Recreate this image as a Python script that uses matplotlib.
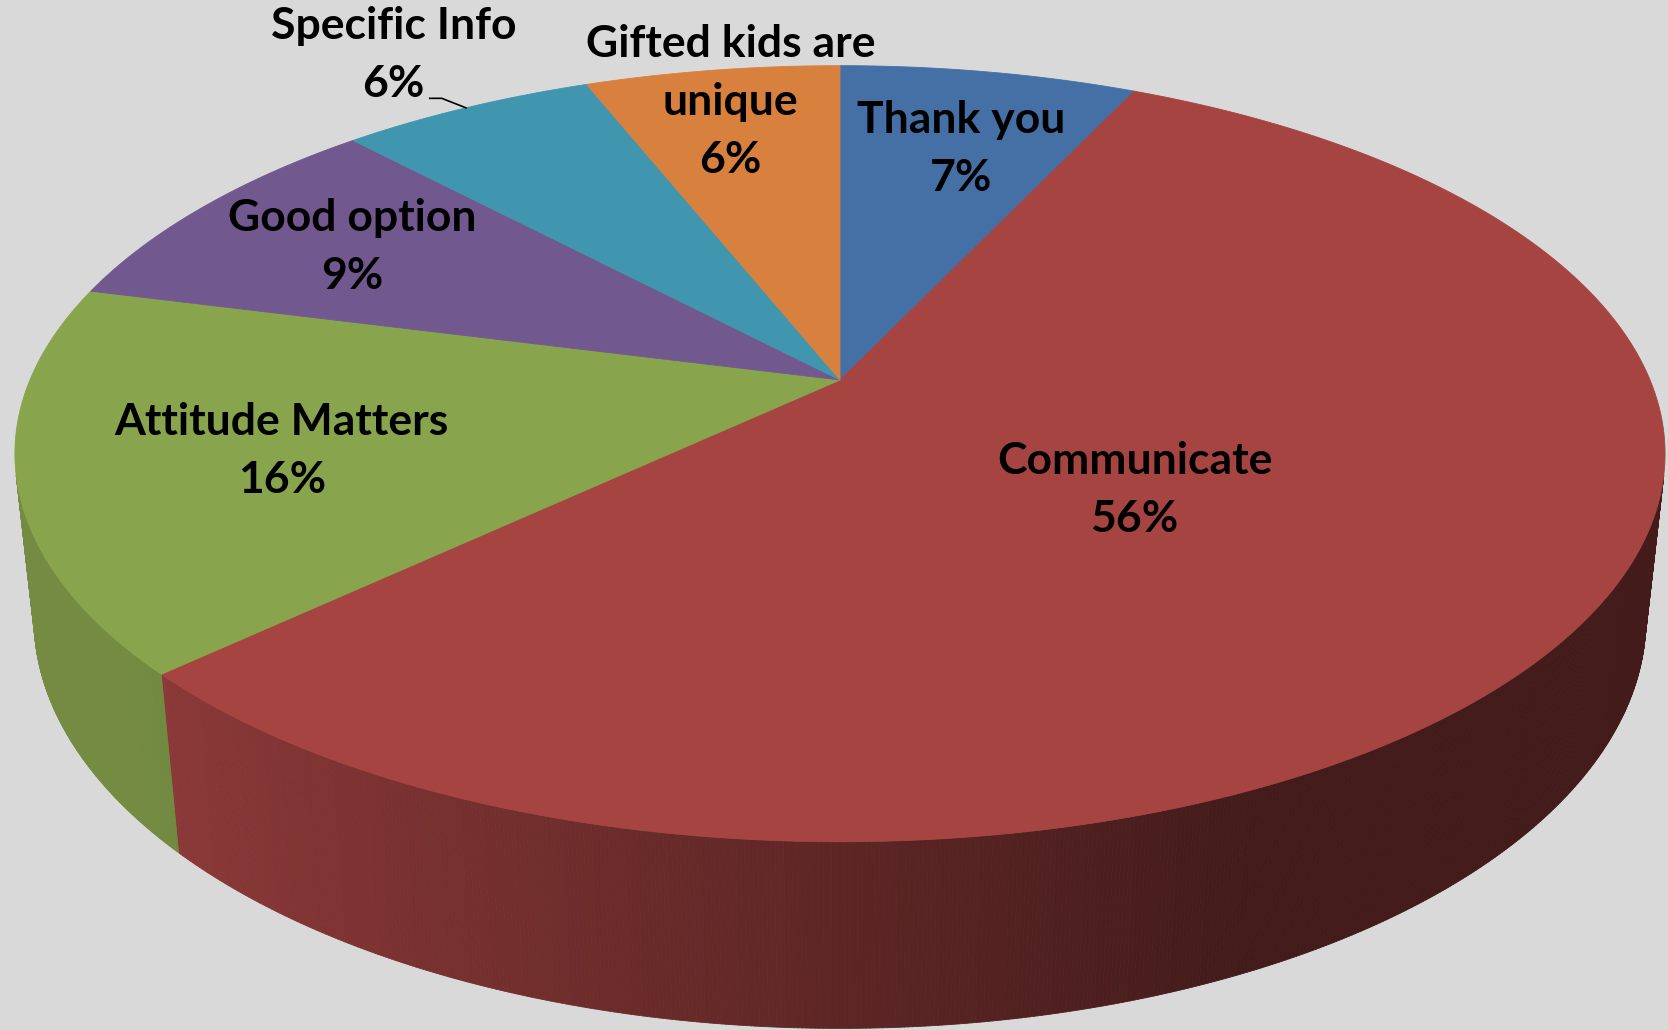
import numpy as np
import matplotlib.pyplot as plt
from matplotlib.collections import PolyCollection
from matplotlib.colors import to_rgb

# --------------------------------------------------
# Data
# --------------------------------------------------
labels = ["Thank you", "Communicate", "Attitude Matters", "Good option",
          "Specific Info", "Gifted kids are\nunique"]
shares = [7, 56, 16, 9, 6, 6]
colors = ["#4470A6", "#A64442", "#88A44D", "#71588F", "#4196AF", "#D8803D"]

# label placement on the top face: radius fraction and angle nudge (deg)
label_r = [0.72, 0.443, 0.69, 0.75, 1.231, 0.879]
label_dtheta = [1, 3, -1, 0, 0, 0.5]

# --------------------------------------------------
# Fake 3D pie geometry (perspective camera)
# --------------------------------------------------
W, H = 1668, 1030
CX, CY = 840, 380
FOCAL, DIST, ELEV = 3783.0, 4.67, np.radians(27.5)
DEPTH = 0.231


def project(x, y, z=0.0):
    den = DIST + y * np.cos(ELEV) - z * np.sin(ELEV)
    sx = CX + FOCAL * x / den
    sy = CY - FOCAL * (y * np.sin(ELEV) + z * np.cos(ELEV)) / den
    return sx, sy


def shade(theta):
    return np.clip(0.56 - 0.375 * np.sin(theta), 0.40, 0.85)


fracs = np.array(shares, dtype=float) / sum(shares)
edges = np.concatenate([[0], np.cumsum(fracs)]) * 2 * np.pi

fig = plt.figure(figsize=(W / 100, H / 100), dpi=100)
fig.patch.set_facecolor("#D9D9D9")
ax = fig.add_axes([0, 0, 1, 1])
ax.set_xlim(0, W)
ax.set_ylim(H, 0)
ax.axis("off")

# side wall (only the strips facing the camera)
limit = -1.0 / (DIST * np.cos(ELEV))
side_polys, side_cols = [], []
for i in range(len(shares)):
    th = np.linspace(edges[i], edges[i + 1], max(4, int(np.degrees(edges[i + 1] - edges[i]) * 4)))
    base = np.array(to_rgb(colors[i]))
    for t0, t1 in zip(th[:-1], th[1:]):
        tm = 0.5 * (t0 + t1)
        if np.cos(tm) > limit:
            continue
        p0 = project(np.sin(t0), np.cos(t0))
        p1 = project(np.sin(t1), np.cos(t1))
        q1 = project(np.sin(t1), np.cos(t1), -DEPTH)
        q0 = project(np.sin(t0), np.cos(t0), -DEPTH)
        side_polys.append([p0, p1, q1, q0])
        side_cols.append(base * shade(tm))

ax.add_collection(PolyCollection(side_polys, facecolors=side_cols,
                                 edgecolors=side_cols, linewidths=0.6))

# top face
top_polys = []
for i in range(len(shares)):
    th = np.linspace(edges[i], edges[i + 1], 200)
    xs, ys = project(np.sin(th), np.cos(th))
    pts = [project(0, 0)] + list(zip(xs, ys))
    top_polys.append(pts)

ax.add_collection(PolyCollection(top_polys, facecolors=colors,
                                 edgecolors=colors, linewidths=0.6))

# data labels
plt.rcParams["font.family"] = ["Lato", "DejaVu Sans"]
for i, name in enumerate(labels):
    mid = 0.5 * (edges[i] + edges[i + 1]) + np.radians(label_dtheta[i])
    r = label_r[i]
    lx, ly = project(r * np.sin(mid), r * np.cos(mid))
    ax.text(lx, ly, f"{name}\n{shares[i]}%", ha="center", va="center",
            fontsize=32, fontweight="bold", color="black",
            linespacing=1.55, family=["Lato", "DejaVu Sans"])
    if r > 1:
        mid0 = 0.5 * (edges[i] + edges[i + 1])
        rx, ry = project(np.sin(mid0), np.cos(mid0))
        ax.plot([lx + 36, lx + 48, rx], [ly + 43, ly + 43, ry],
                color="black", lw=1.2)

fig.savefig("out.png", dpi=100, facecolor=fig.get_facecolor())
